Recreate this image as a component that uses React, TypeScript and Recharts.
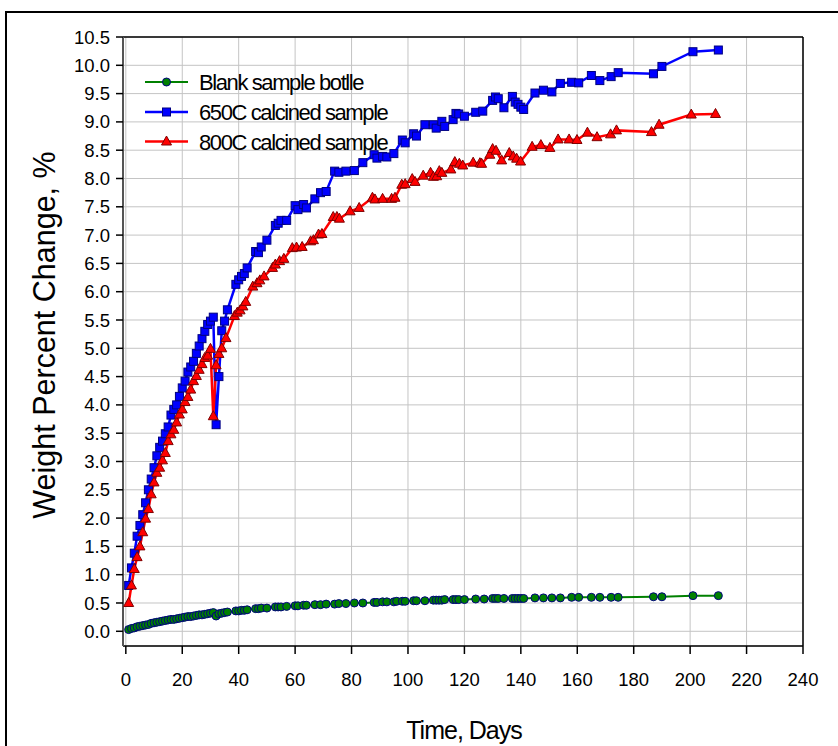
import React from 'react';
import { LineChart, Line, XAxis, YAxis, CartesianGrid, ReferenceLine } from 'recharts';

// ---- Data ----
const blankDays = [1, 2, 3, 4, 5, 6, 7, 8, 9, 10, 11, 12, 13, 14, 15, 16, 17, 18, 19, 20, 21, 22, 23, 24, 25, 26, 27, 28, 29, 30, 31, 32, 33, 34, 35, 36, 39, 40, 41, 42, 43, 46, 47, 48, 50, 53, 54, 55, 57, 60, 61, 63, 64, 67, 69, 71, 74, 75.5, 78, 81, 84, 88, 89, 91, 92.5, 95, 96, 98, 99, 102, 103, 106, 109, 110, 111, 112, 113, 116, 117, 118, 120, 124, 127, 130, 131, 132, 134, 137, 138, 139, 140, 141, 145, 148, 151, 154, 158, 160.5, 165, 168, 172, 174.5, 187, 190, 201, 210];
const blankValues = [0.03, 0.05, 0.06, 0.08, 0.09, 0.1, 0.11, 0.12, 0.14, 0.15, 0.16, 0.17, 0.18, 0.19, 0.2, 0.21, 0.21, 0.22, 0.23, 0.24, 0.25, 0.26, 0.26, 0.27, 0.28, 0.29, 0.29, 0.3, 0.31, 0.32, 0.33, 0.27, 0.31, 0.32, 0.33, 0.34, 0.36, 0.36, 0.37, 0.37, 0.38, 0.4, 0.4, 0.41, 0.41, 0.43, 0.43, 0.43, 0.44, 0.45, 0.45, 0.46, 0.46, 0.47, 0.47, 0.48, 0.48, 0.49, 0.49, 0.5, 0.5, 0.51, 0.51, 0.52, 0.52, 0.52, 0.53, 0.53, 0.53, 0.54, 0.54, 0.54, 0.55, 0.55, 0.55, 0.55, 0.56, 0.56, 0.56, 0.56, 0.56, 0.57, 0.57, 0.58, 0.58, 0.58, 0.58, 0.58, 0.58, 0.58, 0.58, 0.58, 0.59, 0.59, 0.59, 0.59, 0.6, 0.6, 0.6, 0.6, 0.6, 0.6, 0.61, 0.61, 0.63, 0.63];

const c650Days = [1, 2, 3, 4, 5, 6, 7, 8, 9, 10, 11, 12, 13, 14, 15, 16, 17, 18, 19, 20, 21, 22, 23, 24, 25, 26, 27, 28, 29, 30, 31, 32, 33, 34, 35, 36, 39, 40, 41, 42, 43, 46, 47, 48, 50, 53, 54, 55, 57, 60, 61, 63, 64, 67, 69, 71, 74, 75.5, 78, 81, 84, 88, 89, 91, 92.5, 95, 98, 99, 102, 103, 106, 109, 110, 112, 113, 116, 117, 118, 120, 124, 126.5, 130, 131, 132, 134, 137, 138, 139, 140, 141, 145, 148, 151, 154, 158, 160.5, 165, 168, 172, 174.5, 187, 190, 201, 210];
const c650Values = [0.81, 1.12, 1.38, 1.68, 1.87, 2.06, 2.27, 2.5, 2.69, 2.89, 3.1, 3.25, 3.36, 3.49, 3.61, 3.82, 3.92, 4.0, 4.15, 4.3, 4.42, 4.58, 4.67, 4.77, 4.91, 5.04, 5.17, 5.3, 5.42, 5.48, 5.55, 3.65, 4.5, 5.31, 5.48, 5.68, 6.13, 6.21, 6.27, 6.32, 6.42, 6.71, 6.69, 6.79, 6.91, 7.17, 7.21, 7.26, 7.26, 7.52, 7.45, 7.54, 7.48, 7.64, 7.75, 7.77, 8.13, 8.11, 8.13, 8.14, 8.28, 8.42, 8.36, 8.39, 8.38, 8.44, 8.68, 8.63, 8.79, 8.75, 8.95, 8.95, 8.89, 9.01, 8.92, 9.04, 9.15, 9.14, 9.1, 9.17, 9.19, 9.38, 9.44, 9.41, 9.25, 9.45, 9.35, 9.31, 9.26, 9.22, 9.51, 9.56, 9.53, 9.68, 9.7, 9.69, 9.82, 9.73, 9.8, 9.87, 9.85, 9.98, 10.24, 10.27];

const c800Days = [1, 2, 3, 4, 5, 6, 7, 8, 9, 10, 11, 12, 13, 14, 15, 16, 17, 18, 19, 20, 21, 22, 23, 24, 25, 26, 27, 28, 29, 30, 31, 32, 33, 34, 35.5, 38.5, 39.5, 40.5, 41.5, 42.5, 45, 46.5, 47.5, 49, 52, 53, 54.5, 56, 59, 60.5, 62.5, 65.5, 66.5, 68.3, 69.5, 73.5, 74.8, 75.7, 79.5, 82.7, 87.4, 88.3, 91, 94.2, 95.4, 97.8, 99, 101.5, 102.5, 105.4, 108, 109, 110.2, 111.1, 112, 115.2, 116.6, 118.2, 119.4, 123.1, 125.5, 126.1, 129, 130, 131.2, 133.2, 135.9, 137.3, 138.5, 139.9, 144, 147.1, 150.3, 153.2, 157.1, 159.9, 163.6, 167, 171.8, 173.9, 186.3, 189, 200.4, 209];
const c800Values = [0.5, 0.81, 1.1, 1.31, 1.5, 1.75, 1.99, 2.16, 2.42, 2.63, 2.8, 2.89, 3.02, 3.15, 3.36, 3.48, 3.56, 3.69, 3.83, 3.92, 4.05, 4.14, 4.27, 4.42, 4.51, 4.62, 4.72, 4.83, 4.87, 4.99, 3.8, 4.7, 4.9, 5.0, 5.18, 5.57, 5.63, 5.67, 5.74, 5.82, 6.09, 6.15, 6.2, 6.27, 6.42, 6.48, 6.54, 6.58, 6.77, 6.78, 6.79, 6.89, 6.91, 7.01, 7.02, 7.32, 7.32, 7.29, 7.42, 7.48, 7.66, 7.63, 7.64, 7.64, 7.66, 7.89, 7.9, 7.99, 7.94, 8.05, 8.1, 8.03, 8.04, 8.13, 8.1, 8.16, 8.29, 8.26, 8.23, 8.28, 8.27, 8.26, 8.42, 8.52, 8.49, 8.32, 8.45, 8.39, 8.35, 8.3, 8.56, 8.59, 8.54, 8.69, 8.69, 8.68, 8.81, 8.73, 8.78, 8.85, 8.82, 8.95, 9.13, 9.14];

const seriesNames = ['Blank sample botlle', '650C calcined sample', '800C calcined sample'];
const xTicks = [0, 20, 40, 60, 80, 100, 120, 140, 160, 180, 200, 220, 240];
const yTicks = [0, 0.5, 1, 1.5, 2, 2.5, 3, 3.5, 4, 4.5, 5, 5.5, 6, 6.5, 7, 7.5, 8, 8.5, 9, 9.5, 10, 10.5];

const toRows = (days: number[], values: number[]) => days.map((d, i) => ({ day: d, value: values[i] }));
const blankData = toRows(blankDays, blankValues);
const c650Data = toRows(c650Days, c650Values);
const c800Data = toRows(c800Days, c800Values);

const FONT = '"Liberation Sans", Arial, sans-serif';

const CircleDot = (p: any) => (
  <circle key={`c${p.index}`} cx={p.cx} cy={p.cy} r={4} fill="#008000" stroke="#000080" strokeWidth={1} />
);
const SquareDot = (p: any) => (
  <rect key={`s${p.index}`} x={p.cx - 4} y={p.cy - 4} width={8} height={8} fill="#0000FF" stroke="#000080" strokeWidth={1} />
);
const TriDot = (p: any) => (
  <polygon
    key={`t${p.index}`}
    points={`${p.cx},${p.cy - 5.5} ${p.cx - 5},${p.cy + 3.5} ${p.cx + 5},${p.cy + 3.5}`}
    fill="#FF0000"
    stroke="#800000"
    strokeWidth={1}
  />
);

export default function App() {
  const W = 838;
  const H = 746;
  return (
    <div style={{ position: 'absolute', left: 0, top: 0, width: W, height: H, overflow: 'hidden', background: '#fff' }}>
      <div style={{ position: 'absolute', left: 5, top: 11, width: 900, height: 900, border: '2px solid #000', boxSizing: 'border-box' }} />
      <div style={{ position: 'absolute', left: 0, top: 0 }}>
        <LineChart width={W} height={H} margin={{ top: 37, right: 35, bottom: 60, left: 63 }}>
          <CartesianGrid stroke="#c4c4c4" strokeWidth={1} />
          <XAxis
            dataKey="day"
            type="number"
            domain={[-1, 240]}
            ticks={xTicks}
            allowDataOverflow
            height={40}
            tickSize={8}
            tickMargin={19}
            interval={0}
            axisLine={{ stroke: '#000', strokeWidth: 1.5 }}
            tickLine={{ stroke: '#000', strokeWidth: 1.5 }}
            tick={{ fill: '#000', fontSize: 18.5, fontFamily: FONT }}
          />
          <YAxis
            dataKey="value"
            type="number"
            domain={[-0.26, 10.5]}
            ticks={yTicks}
            allowDataOverflow
            width={60}
            tickSize={7}
            tickMargin={6}
            interval={0}
            tickFormatter={(v: number) => v.toFixed(1)}
            axisLine={{ stroke: '#555', strokeWidth: 2 }}
            tickLine={{ stroke: '#000', strokeWidth: 1.5 }}
            tick={{ fill: '#000', fontSize: 18.5, fontFamily: FONT }}
          />
          <ReferenceLine y={10.5} stroke="#000" strokeWidth={1.5} />
          <ReferenceLine x={240} stroke="#000" strokeWidth={1.5} />
          <Line data={blankData} dataKey="value" name={seriesNames[0]} stroke="#008000" strokeWidth={2} dot={CircleDot} activeDot={false} isAnimationActive={false} />
          <Line data={c650Data} dataKey="value" name={seriesNames[1]} stroke="#0000FF" strokeWidth={2.5} dot={SquareDot} activeDot={false} isAnimationActive={false} />
          <Line data={c800Data} dataKey="value" name={seriesNames[2]} stroke="#FF0000" strokeWidth={2.5} dot={TriDot} activeDot={false} isAnimationActive={false} />
        </LineChart>
      </div>
      <svg width={W} height={H} style={{ position: 'absolute', left: 0, top: 0, pointerEvents: 'none' }}>
        <g>
          <line x1={145} y1={82} x2={188} y2={82} stroke="#008000" strokeWidth={2} />
          <circle cx={166.5} cy={82} r={4} fill="#008000" stroke="#000080" strokeWidth={1} />
          <text x={199} y={90} fontFamily={FONT} fontSize={22} letterSpacing={-1.4} fill="#000">{seriesNames[0]}</text>
          <line x1={145} y1={112} x2={188} y2={112} stroke="#0000FF" strokeWidth={2.5} />
          <rect x={162.5} y={108} width={8} height={8} fill="#0000FF" stroke="#000080" strokeWidth={1} />
          <text x={199} y={120} fontFamily={FONT} fontSize={22} letterSpacing={-1.4} fill="#000">{seriesNames[1]}</text>
          <line x1={145} y1={141.5} x2={188} y2={141.5} stroke="#FF0000" strokeWidth={2.5} />
          <polygon points="166.5,136 161.5,145 171.5,145" fill="#FF0000" stroke="#800000" strokeWidth={1} />
          <text x={199} y={150} fontFamily={FONT} fontSize={22} letterSpacing={-1.4} fill="#000">{seriesNames[2]}</text>
        </g>
        <text x={464} y={739} textAnchor="middle" fontFamily={FONT} fontSize={25} letterSpacing={-1} fill="#000">Time, Days</text>
        <text x={0} y={0} transform="translate(55,335) rotate(-90)" textAnchor="middle" fontFamily={FONT} fontSize={30.5} fill="#000">Weight Percent Change, %</text>
      </svg>
    </div>
  );
}
